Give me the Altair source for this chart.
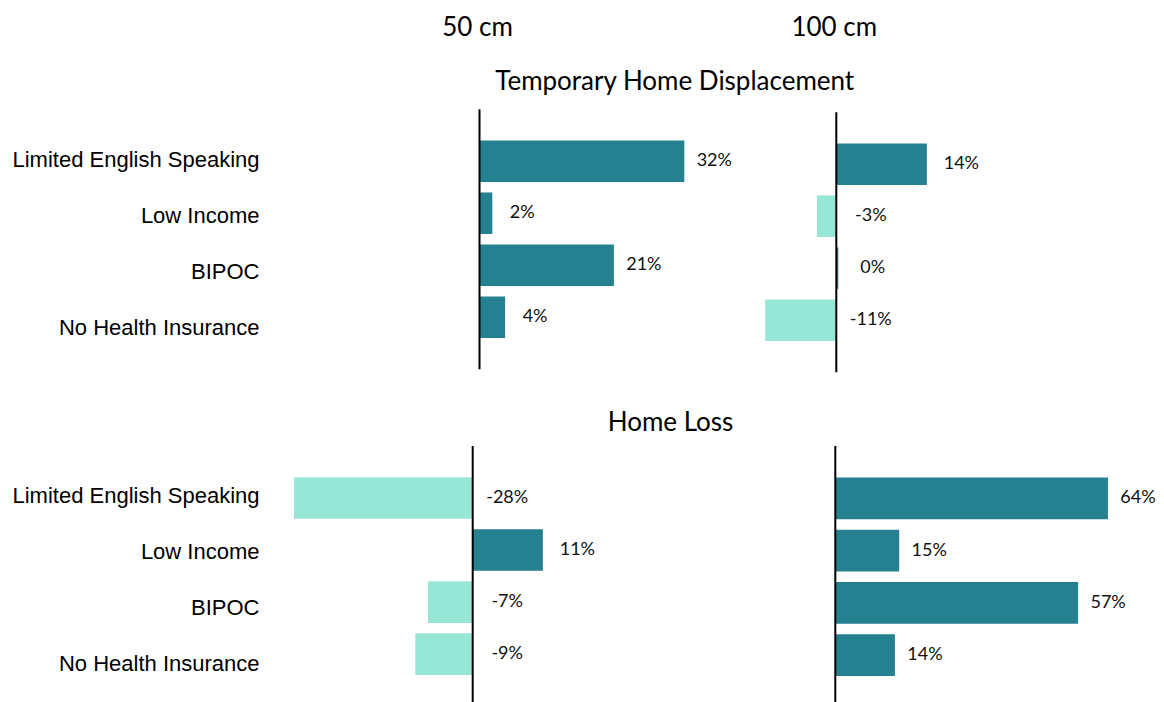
import altair as alt
import pandas as pd

# ---------------- data ----------------
categories = ["Limited English Speaking", "Low Income", "BIPOC", "No Health Insurance"]
displacement_50 = [32, 2, 21, 4]
displacement_100 = [14, -3, 0.3, -11]
loss_50 = [-28, 11, -7, -9]
loss_100 = [64, 15, 57, 14]
column_titles = ["50 cm", "100 cm"]
row_titles = ["Temporary Home Displacement", "Home Loss"]

# ---------------- layout / style ----------------
PAD_LEFT = 262
ORIGIN_X = 8 + PAD_LEFT          # page x of the plot origin
ORIGIN_Y = 8
W, H = 1148 - PAD_LEFT, 694
DARK = "#25818F"
LIGHT = "#97E7D6"
TITLE_FONT = "Lato"
VALUE_FONT = "Lato"
LABEL_FONT = "Liberation Sans"


def panel(values, zero_page_x, ppu, y_top_page, step, label_dx, header=None, header_dx=0):
    zero_px = zero_page_x - ORIGIN_X
    y_top = y_top_page - ORIGIN_Y
    df = pd.DataFrame({"category": categories, "value": values})
    df["sign"] = ["neg" if v < 0 else "pos" for v in values]
    xscale = alt.Scale(domain=[-zero_px / ppu, (W - zero_px) / ppu], range=[0, W], nice=False, zero=False)
    yscale = alt.Scale(domain=categories, range=[y_top, y_top + 5 * step],
                       paddingInner=0.2, paddingOuter=0.6)
    base = alt.Chart(df)
    bars = base.mark_bar().encode(
        x=alt.X("value:Q", scale=xscale, axis=None),
        x2=alt.datum(0),
        y=alt.Y("category:N", scale=yscale, axis=None, sort=categories),
        color=alt.Color("sign:N", scale=alt.Scale(domain=["neg", "pos"], range=[LIGHT, DARK]), legend=None),
    )
    labels = base.transform_calculate(
        lx="max(datum.value, 0)", txt="round(datum.value) + '%'"
    ).mark_text(
        align="center", baseline="middle", dx=label_dx, font=VALUE_FONT, fontSize=18, color="#111111"
    ).encode(
        x=alt.X("lx:Q", scale=xscale, axis=None),
        y=alt.Y("category:N", scale=yscale, axis=None, sort=categories),
        text="txt:N",
    )
    rule = alt.Chart(pd.DataFrame({"z": [0]})).mark_rule(color="#000000", strokeWidth=2).encode(
        x=alt.X("z:Q", scale=xscale, axis=None),
        y=alt.value(y_top),
        y2=alt.value(min(y_top + 5 * step, H)),
    )
    layers = [bars, rule, labels]
    if header:
        hdr = alt.Chart(pd.DataFrame({"z": [0], "t": [header]})).mark_text(
            align="center", baseline="middle", font=TITLE_FONT, fontSize=26, color="#000000", dx=header_dx
        ).encode(
            x=alt.X("z:Q", scale=xscale, axis=None),
            y=alt.value(28 - ORIGIN_Y),
            text="t:N",
        )
        layers.append(hdr)
    return alt.layer(*layers)


tl = panel(displacement_50, 479.5, 6.4, 109.3, 51.97, 30, column_titles[0], -2)
tr = panel(displacement_100, 836.3, 6.47, 112.2, 52.0, 34.5, column_titles[1], -2)
bl = panel(loss_50, 472.7, 6.38, 445.9, 52.07, 34.5)
br = panel(loss_100, 835.3, 4.26, 446.0, 52.3, 30)

# category labels on one shared axis (top block, two spacers, bottom block)
keys = [f"T|{c}" for c in categories] + ["S1|", "S2|"] + [f"B|{c}" for c in categories]
label_layer = alt.Chart(pd.DataFrame({"key": [k for k in keys if not k.startswith("S")]})).mark_point(
    opacity=0
).encode(
    y=alt.Y(
        "key:N",
        scale=alt.Scale(type="point", domain=keys,
                        range=[159.1 - ORIGIN_Y, 663.8 - ORIGIN_Y], padding=0),
        axis=alt.Axis(
            title=None, domain=False, ticks=False, tickSize=0, grid=False,
            labelExpr="split(datum.value, '|')[1]",
            labelFont=LABEL_FONT, labelFontSize=22, labelColor="#000000",
            labelPadding=ORIGIN_X - 259, labelLimit=400, labelOverlap=False, labelBaseline="middle",
        ),
    )
)

row_title_1 = alt.Chart(pd.DataFrame({"t": [row_titles[0]]})).mark_text(
    align="center", baseline="middle", font=TITLE_FONT, fontSize=26, color="#000000"
).encode(x=alt.value(674.7 - ORIGIN_X), y=alt.value(81.5 - ORIGIN_Y), text="t:N")

row_title_2 = alt.Chart(pd.DataFrame({"t": [row_titles[1]]})).mark_text(
    align="center", baseline="middle", font=TITLE_FONT, fontSize=26, color="#000000"
).encode(x=alt.value(670.5 - ORIGIN_X), y=alt.value(423 - ORIGIN_Y), text="t:N")

chart = alt.layer(
    label_layer, tl, tr, bl, br, row_title_1, row_title_2
).resolve_scale(
    x="independent", y="independent"
).properties(
    width=W, height=H,
    autosize=alt.AutoSizeParams(type="none"),
    padding={"left": PAD_LEFT, "top": 0, "right": 0, "bottom": 0},
).configure_view(stroke=None)

chart.save("out.html", embed_options={"renderer": "svg", "actions": False})
